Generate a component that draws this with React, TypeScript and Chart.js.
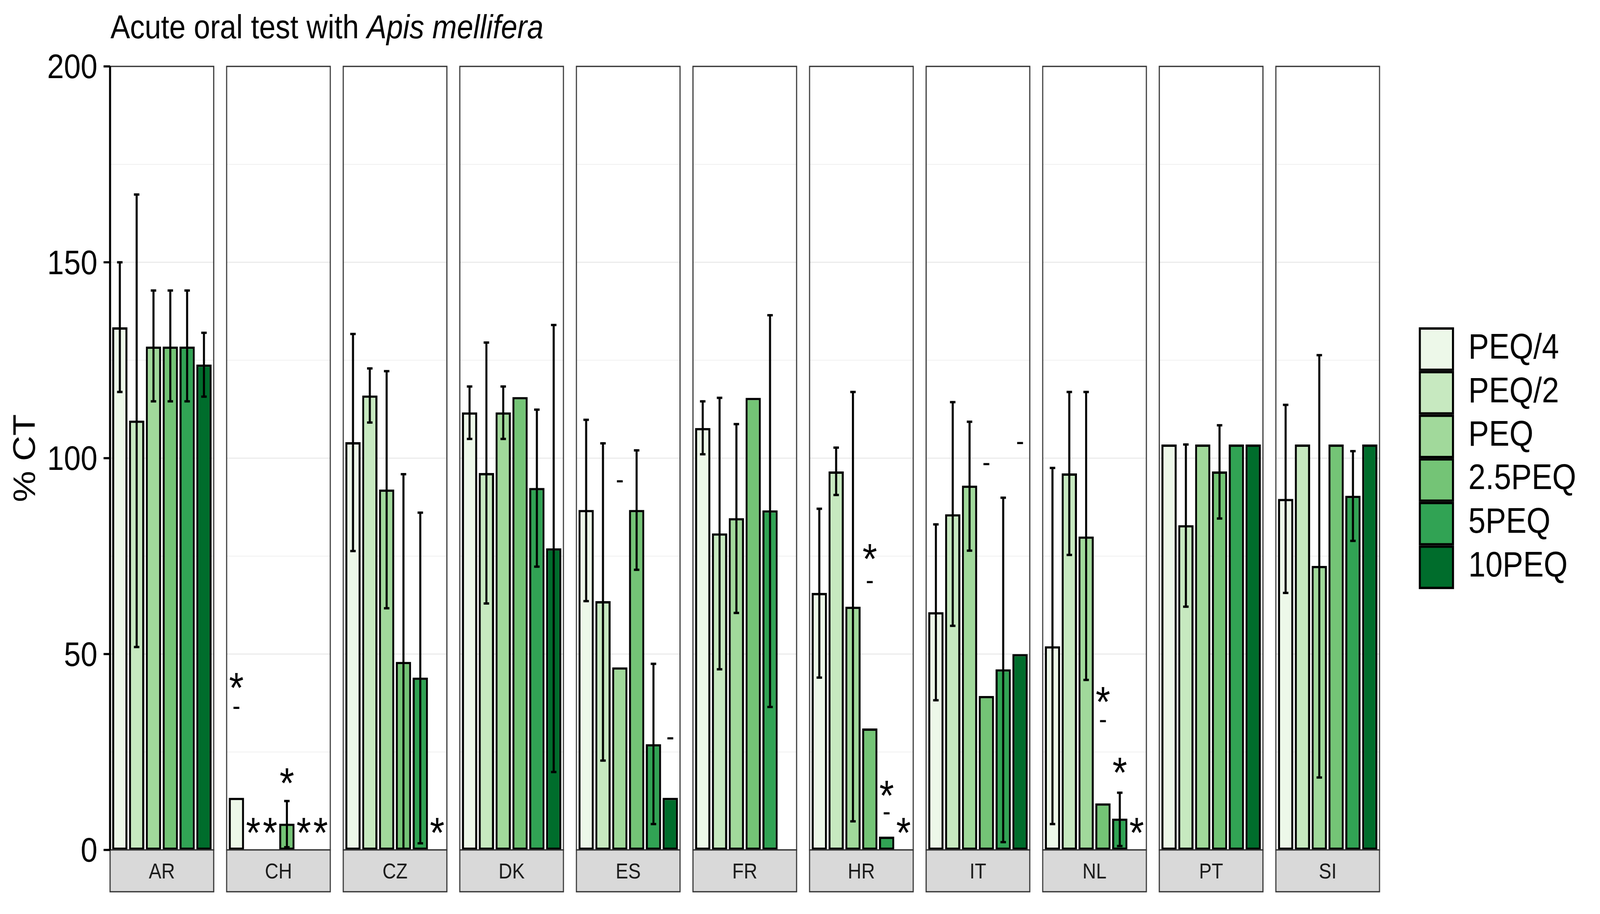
import { useEffect, useRef } from "react";
import { Chart, registerables } from "chart.js";

Chart.register(...registerables);

const N = null;

// facets (countries) and dose levels
const countries = ["AR", "CH", "CZ", "DK", "ES", "FR", "HR", "IT", "NL", "PT", "SI"];
const doses = ["PEQ/4", "PEQ/2", "PEQ", "2.5PEQ", "5PEQ", "10PEQ"];
const doseColors = ["#EDF8E9", "#C7E9C0", "#A1D99B", "#74C476", "#31A354", "#006D2C"];

// mean % CT per country, one array per dose
const meanPEQ4 = [133.4, 13.3, 104.1, 111.7, 86.8, 107.7, 65.6, 60.7, 52.0, 103.5, 89.6];
const meanPEQ2 = [109.6, 0, 116.0, 96.2, 63.5, 80.8, 96.6, 85.7, 96.1, 82.9, 103.5];
const meanPEQ = [128.5, 0, 92.0, 111.7, 46.6, 84.7, 62.1, 93.0, 80.0, 103.5, 72.5];
const mean2_5PEQ = [128.5, 6.7, 48.0, 115.6, 86.8, 115.4, 31.0, 39.3, 11.9, 96.6, 103.5];
const mean5PEQ = [128.5, 0, 44.0, 92.4, 27.0, 86.7, 3.4, 46.1, 8.0, 103.5, 90.4];
const mean10PEQ = [123.9, 0, 0, 77.0, 13.3, N, 0, 50.0, 0, 103.5, 103.5];

// error bar ends (upper / lower)
const hiPEQ4 = [150.0, N, 131.7, 118.3, 109.8, 114.5, 87.1, 83.1, 97.5, N, 113.6];
const loPEQ4 = [116.9, N, 76.3, 104.9, 63.5, 101.0, 44.0, 38.2, 6.6, N, 65.6];
const hiPEQ2 = [167.3, N, 122.9, 129.5, 103.8, 115.4, 102.7, 114.3, 116.9, 103.5, N];
const loPEQ2 = [51.8, N, 109.1, 62.9, 22.8, 46.1, 90.6, 57.2, 75.3, 62.1, N];
const hiPEQ = [142.8, N, 122.2, 118.3, N, 108.7, 116.9, 109.3, 116.9, N, 126.3];
const loPEQ = [114.5, N, 61.7, 104.9, N, 60.5, 7.3, 76.4, 43.4, N, 18.5];
const hi2_5PEQ = [142.8, 12.5, 95.9, N, 102.0, N, N, N, N, 108.4, N];
const lo2_5PEQ = [114.5, 0.7, 0.0, N, 71.5, N, N, N, N, 84.6, N];
const hi5PEQ = [142.8, N, 86.1, 112.4, 47.5, 136.5, N, 89.9, 14.6, N, 101.8];
const lo5PEQ = [114.5, N, 1.7, 72.3, 6.6, 36.5, N, 2.0, 1.0, N, 78.9];
const hi10PEQ = [132.0, N, N, 134.0, N, N, N, N, N, N, N];
const lo10PEQ = [115.7, N, N, 19.9, N, N, N, N, N, N, N];

// significance marks: height of "*" and "-" labels
const starPEQ4 = [N, 43.2, N, N, N, N, N, N, N, N, N];
const starPEQ2 = [N, 6.2, N, N, N, N, N, N, N, N, N];
const starPEQ = [N, 6.2, N, N, N, N, N, N, N, N, N];
const star2_5PEQ = [N, 18.9, N, N, N, N, 76.1, N, 39.6, N, N];
const star5PEQ = [N, 6.2, N, N, N, N, 15.7, N, 21.6, N, N];
const star10PEQ = [N, 6.2, 6.2, N, N, N, 6.2, N, 6.2, N, N];
const dashPEQ4 = [N, 36.3, N, N, N, N, N, N, N, N, N];
const dashPEQ2 = [N, N, N, N, N, N, N, N, N, N, N];
const dashPEQ = [N, N, N, N, 94.1, N, N, N, N, N, N];
const dash2_5PEQ = [N, N, N, N, N, N, 68.4, 98.5, 32.9, N, N];
const dash5PEQ = [N, N, N, N, N, N, 9.4, N, N, N, N];
const dash10PEQ = [N, N, N, N, 28.5, N, N, 103.9, N, N, N];

const yTicks = [0, 50, 100, 150, 200];
const yMinor = [25, 75, 125, 175];

const means = [meanPEQ4, meanPEQ2, meanPEQ, mean2_5PEQ, mean5PEQ, mean10PEQ];
const highs = [hiPEQ4, hiPEQ2, hiPEQ, hi2_5PEQ, hi5PEQ, hi10PEQ];
const lows = [loPEQ4, loPEQ2, loPEQ, lo2_5PEQ, lo5PEQ, lo10PEQ];
const stars = [starPEQ4, starPEQ2, starPEQ, star2_5PEQ, star5PEQ, star10PEQ];
const dashes = [dashPEQ4, dashPEQ2, dashPEQ, dash2_5PEQ, dash5PEQ, dash10PEQ];

const FONT = "'Liberation Sans', Arial, Helvetica, sans-serif";
const CAT_PCT = 0.866;
const BAR_PCT = 0.907;
const PANEL_FRAC = 0.889; // panel width relative to category pitch
const STRIP_H = 107;

// draw text with its ink centred vertically on y
function fillCentred(ctx: CanvasRenderingContext2D, text: string, x: number, y: number) {
  ctx.textBaseline = "alphabetic";
  const m = ctx.measureText(text);
  ctx.fillText(text, x, y + (m.actualBoundingBoxAscent - m.actualBoundingBoxDescent) / 2);
}

const facetPlugin = {
  id: "facets",
  beforeDatasetsDraw(chart: any) {
    const { ctx, scales } = chart;
    const xs = scales.x;
    const ys = scales.y;
    const pitch = xs.getPixelForValue(1) - xs.getPixelForValue(0);
    const half = (pitch * PANEL_FRAC) / 2;
    ctx.save();
    ctx.strokeStyle = "#EBEBEB";
    countries.forEach((_, j) => {
      const cx = xs.getPixelForValue(j);
      ctx.lineWidth = 1.6;
      yMinor.forEach((v) => {
        const y = ys.getPixelForValue(v);
        ctx.beginPath();
        ctx.moveTo(cx - half, y);
        ctx.lineTo(cx + half, y);
        ctx.stroke();
      });
      ctx.lineWidth = 3.2;
      yTicks.forEach((v) => {
        const y = ys.getPixelForValue(v);
        ctx.beginPath();
        ctx.moveTo(cx - half, y);
        ctx.lineTo(cx + half, y);
        ctx.stroke();
      });
    });
    ctx.restore();
  },
  afterDatasetsDraw(chart: any) {
    const { ctx, scales, chartArea } = chart;
    const xs = scales.x;
    const ys = scales.y;
    const pitch = xs.getPixelForValue(1) - xs.getPixelForValue(0);
    const half = (pitch * PANEL_FRAC) / 2;
    const slot = (pitch * CAT_PCT) / doses.length;
    ctx.save();

    // error bars
    ctx.strokeStyle = "#000";
    ctx.lineWidth = 6;
    doses.forEach((_, i) => {
      countries.forEach((__, j) => {
        const hi = highs[i][j];
        const lo = lows[i][j];
        if (hi == null || lo == null) return;
        const x = xs.getPixelForValue(j) + (i - (doses.length - 1) / 2) * slot;
        const y1 = ys.getPixelForValue(hi);
        const y2 = ys.getPixelForValue(lo);
        ctx.beginPath();
        ctx.moveTo(x, y1);
        ctx.lineTo(x, y2);
        ctx.moveTo(x - 8, y1);
        ctx.lineTo(x + 8, y1);
        ctx.moveTo(x - 8, y2);
        ctx.lineTo(x + 8, y2);
        ctx.stroke();
      });
    });

    // significance labels
    ctx.fillStyle = "#000";
    ctx.textAlign = "center";
    doses.forEach((_, i) => {
      countries.forEach((__, j) => {
        const x = xs.getPixelForValue(j) + (i - (doses.length - 1) / 2) * slot;
        const s = stars[i][j];
        if (s != null) {
          ctx.font = `110px ${FONT}`;
          fillCentred(ctx, "*", x, ys.getPixelForValue(s));
        }
        const d = dashes[i][j];
        if (d != null) {
          ctx.font = `70px ${FONT}`;
          fillCentred(ctx, "-", x, ys.getPixelForValue(d));
        }
      });
    });

    // panel borders and strips
    countries.forEach((c, j) => {
      const cx = xs.getPixelForValue(j);
      ctx.strokeStyle = "#333333";
      ctx.lineWidth = 3.2;
      ctx.strokeRect(cx - half, chartArea.top, half * 2, chartArea.bottom - chartArea.top);
      ctx.fillStyle = "#D9D9D9";
      ctx.fillRect(cx - half, chartArea.bottom, half * 2, STRIP_H);
      ctx.strokeRect(cx - half, chartArea.bottom, half * 2, STRIP_H);
      ctx.fillStyle = "#1A1A1A";
      ctx.font = `55px ${FONT}`;
      ctx.textAlign = "center";
      fillCentred(ctx, c, cx, chartArea.bottom + STRIP_H / 2);
    });

    // y axis
    const axisX = xs.getPixelForValue(0) - half;
    ctx.strokeStyle = "#000";
    ctx.lineWidth = 6;
    ctx.beginPath();
    ctx.moveTo(axisX, chartArea.top);
    ctx.lineTo(axisX, chartArea.bottom);
    ctx.stroke();
    ctx.fillStyle = "#000";
    ctx.font = `88px ${FONT}`;
    ctx.textAlign = "right";
    yTicks.forEach((v) => {
      const y = ys.getPixelForValue(v);
      ctx.lineWidth = 5.5;
      ctx.beginPath();
      ctx.moveTo(axisX - 19, y);
      ctx.lineTo(axisX, y);
      ctx.stroke();
      fillCentred(ctx, String(v), axisX - 37, y);
    });

    // y title
    ctx.save();
    ctx.translate(102, (chartArea.top + chartArea.bottom) / 2);
    ctx.rotate(-Math.PI / 2);
    ctx.textAlign = "center";
    ctx.textBaseline = "alphabetic";
    ctx.font = `90px ${FONT}`;
    ctx.fillText("% CT", 0, 0);
    ctx.restore();

    // title with italic species name
    ctx.textAlign = "left";
    ctx.textBaseline = "alphabetic";
    ctx.font = `86px ${FONT}`;
    const lead = "Acute oral test with ";
    ctx.fillText(lead, axisX + 1, 98);
    const w = ctx.measureText(lead).width;
    ctx.font = `italic 86px ${FONT}`;
    ctx.fillText("Apis mellifera", axisX + 1 + w, 98);

    // legend
    const keyX = 4150;
    const keyW = 103;
    const keyH = 111.7;
    const keyTop = 838;
    doses.forEach((d, i) => {
      const top = keyTop + i * keyH;
      ctx.fillStyle = doseColors[i];
      ctx.fillRect(keyX + 3, top + 3, keyW - 6, keyH - 6);
      ctx.strokeStyle = "#000";
      ctx.lineWidth = 6;
      ctx.strokeRect(keyX + 3, top + 3, keyW - 6, keyH - 6);
      ctx.fillStyle = "#000";
      ctx.font = `90px ${FONT}`;
      ctx.textAlign = "left";
      fillCentred(ctx, d, keyX + 145, top + keyH / 2);
    });

    ctx.restore();
  },
};

export default function App() {
  const canvasRef = useRef<HTMLCanvasElement | null>(null);
  const chartRef = useRef<Chart | null>(null);

  useEffect(() => {
    if (!canvasRef.current) return;
    if (chartRef.current) chartRef.current.destroy();

    chartRef.current = new Chart(canvasRef.current, {
      type: "bar",
      data: {
        labels: countries,
        datasets: doses.map((d, i) => ({
          label: d,
          data: means[i],
          backgroundColor: doseColors[i],
          borderColor: "#000000",
          borderWidth: 6,
          borderSkipped: false,
          categoryPercentage: CAT_PCT,
          barPercentage: BAR_PCT,
        })),
      },
      options: {
        responsive: false,
        animation: false,
        devicePixelRatio: 1,
        layout: { padding: { left: 303, right: 626, top: 170, bottom: 164 } },
        scales: {
          x: { display: false, offset: true },
          y: { display: false, min: 0, max: 200 },
        },
        plugins: {
          legend: { display: false },
          tooltip: { enabled: false },
          title: { display: false },
        },
      },
      plugins: [facetPlugin],
    });

    return () => {
      if (chartRef.current) {
        chartRef.current.destroy();
        chartRef.current = null;
      }
    };
  }, []);

  // canvas is drawn at 4680x2340 and shown at the size of the window
  return (
    <div style={{ position: "fixed", left: 0, top: 0, width: "100vw", height: "100vh", background: "#fff" }}>
      <canvas
        ref={canvasRef}
        width={4680}
        height={2340}
        style={{ display: "block", width: "100vw", height: "100vh" }}
      />
    </div>
  );
}
